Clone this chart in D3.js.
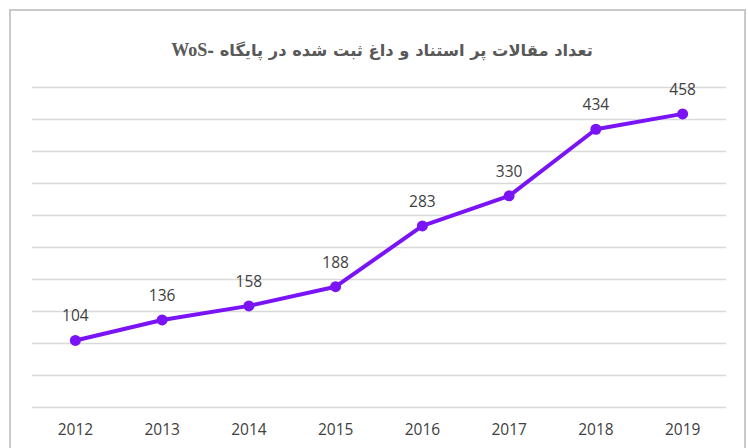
<!DOCTYPE html>
<html><head><meta charset="utf-8">
<script src="https://cdn.jsdelivr.net/npm/d3@7"></script>
<style>body{margin:0;background:#fff}svg{display:block}</style>
</head><body>
<svg id="c" width="748" height="448"></svg>
<script>
const years = ["2012","2013","2014","2015","2016","2017","2018","2019"];
const counts = [104,136,158,188,283,330,434,458];
const yTicks = [0,50,100,150,200,250,300,350,400,450,500];
const titleFa = "تعداد مقالات پر استناد و داغ ثبت شده در پایگاه -";
const titleEn = "WoS";

const svg = d3.select("#c");
svg.append("rect").attr("x",10).attr("y",10).attr("width",735).attr("height",460)
  .attr("fill","#fff").attr("stroke","#c9c9c9").attr("stroke-width",2);

const x = d3.scaleBand().domain(years).range([32,726]);
const y = d3.scaleLinear().domain([0,500]).range([407,87]);

const grid = svg.append("g").attr("transform","translate(32,0)")
  .call(d3.axisLeft(y).tickValues(yTicks).tickSize(-694).tickFormat(""));
grid.select(".domain").remove();
grid.selectAll("line").attr("stroke","#d9d9d9").attr("stroke-width",1.3);

const font = "'Open Sans', 'Liberation Sans', sans-serif";
const xa = svg.append("g").attr("transform","translate(0,407)")
  .call(d3.axisBottom(x).tickSize(0).tickPadding(17));
xa.select(".domain").remove();
xa.selectAll("text").attr("font-family",font)
  .attr("font-size",15.5).attr("fill","#404040");

const pts = years.map((yr,i)=>({yr, v:counts[i]}));
const cx = d=>x(d.yr)+x.bandwidth()/2;
svg.append("path").datum(pts)
  .attr("d", d3.line().x(cx).y(d=>y(d.v)))
  .attr("fill","none").attr("stroke","#7a14f6").attr("stroke-width",4).attr("stroke-linejoin","round");
svg.selectAll("circle.p").data(pts).join("circle")
  .attr("cx",cx).attr("cy",d=>y(d.v)).attr("r",5.5).attr("fill","#7a14f6");
svg.selectAll("text.lbl").data(pts).join("text")
  .attr("x",cx).attr("y",d=>y(d.v)-19).attr("text-anchor","middle")
  .attr("font-family",font).attr("font-size",15.5)
  .attr("fill","#404040").text(d=>d.v);

const t = svg.append("text").attr("x",382).attr("y",56).attr("text-anchor","middle")
  .attr("direction","rtl").style("direction","rtl")
  .attr("font-family","'DejaVu Sans', sans-serif").attr("font-weight","bold")
  .attr("font-size",16.3).attr("fill","#595959");
t.append("tspan").text(titleFa);
t.append("tspan").attr("font-family","'Liberation Serif', serif").attr("font-size",18).text(titleEn);
</script>
</body></html>
